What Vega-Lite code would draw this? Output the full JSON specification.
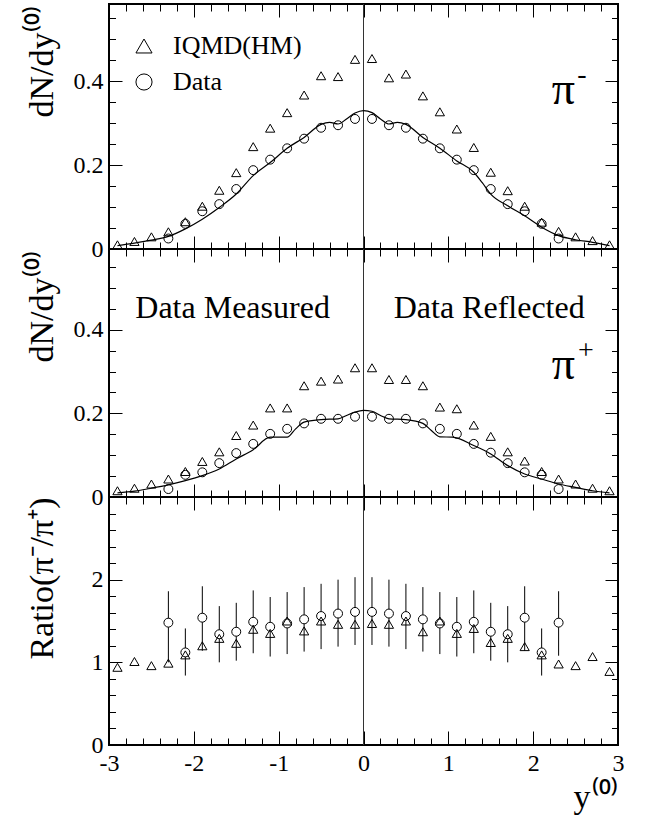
{
  "$schema": "https://vega.github.io/schema/vega-lite/v6.json",
  "padding": {"left": 24, "top": 2, "right": 5, "bottom": 5},
  "spacing": 0,
  "bounds": "flush",
  "config": {
    "font": "Liberation Serif",
    "view": {"stroke": "black", "strokeWidth": 2},
    "axis": {"domain": false, "grid": false, "tickColor": "black", "tickWidth": 1, "labelFont": "Liberation Serif", "labelFontSize": 24, "labelColor": "black", "titleFont": "Liberation Serif", "titleFontWeight": "normal", "titleColor": "black", "labelOverlap": false, "labelFlush": false}
  },
  "datasets": {
    "one": [{}],
    "pim_model": [
      {"rap": -2.9, "val": 0.010}, {"rap": -2.7, "val": 0.018}, {"rap": -2.5, "val": 0.029}, {"rap": -2.3, "val": 0.041},
      {"rap": -2.1, "val": 0.065}, {"rap": -1.9, "val": 0.102}, {"rap": -1.7, "val": 0.140}, {"rap": -1.5, "val": 0.182},
      {"rap": -1.3, "val": 0.244}, {"rap": -1.1, "val": 0.288}, {"rap": -0.9, "val": 0.325}, {"rap": -0.7, "val": 0.367},
      {"rap": -0.5, "val": 0.413}, {"rap": -0.3, "val": 0.411}, {"rap": -0.1, "val": 0.452}, {"rap": 0.1, "val": 0.454},
      {"rap": 0.3, "val": 0.408}, {"rap": 0.5, "val": 0.417}, {"rap": 0.7, "val": 0.365}, {"rap": 0.9, "val": 0.327},
      {"rap": 1.1, "val": 0.286}, {"rap": 1.3, "val": 0.242}, {"rap": 1.5, "val": 0.183}, {"rap": 1.7, "val": 0.139},
      {"rap": 1.9, "val": 0.102}, {"rap": 2.1, "val": 0.064}, {"rap": 2.3, "val": 0.042}, {"rap": 2.5, "val": 0.029},
      {"rap": 2.7, "val": 0.020}, {"rap": 2.9, "val": 0.010}
    ],
    "pim_data": [
      {"rap": -2.3, "val": 0.025}, {"rap": -2.1, "val": 0.060}, {"rap": -1.9, "val": 0.090}, {"rap": -1.7, "val": 0.107},
      {"rap": -1.5, "val": 0.143}, {"rap": -1.3, "val": 0.188}, {"rap": -1.1, "val": 0.213}, {"rap": -0.9, "val": 0.240},
      {"rap": -0.7, "val": 0.263}, {"rap": -0.5, "val": 0.289}, {"rap": -0.3, "val": 0.295}, {"rap": -0.1, "val": 0.310},
      {"rap": 0.1, "val": 0.310}, {"rap": 0.3, "val": 0.295}, {"rap": 0.5, "val": 0.289}, {"rap": 0.7, "val": 0.263},
      {"rap": 0.9, "val": 0.240}, {"rap": 1.1, "val": 0.213}, {"rap": 1.3, "val": 0.188}, {"rap": 1.5, "val": 0.143},
      {"rap": 1.7, "val": 0.107}, {"rap": 1.9, "val": 0.090}, {"rap": 2.1, "val": 0.060}, {"rap": 2.3, "val": 0.025}
    ],
    "pim_curve": [
      {"rap": -2.9, "val": 0.008}, {"rap": -2.7, "val": 0.014}, {"rap": -2.5, "val": 0.021}, {"rap": -2.3, "val": 0.030},
      {"rap": -2.1, "val": 0.048}, {"rap": -1.9, "val": 0.071}, {"rap": -1.7, "val": 0.099}, {"rap": -1.5, "val": 0.131},
      {"rap": -1.3, "val": 0.175}, {"rap": -1.1, "val": 0.206}, {"rap": -0.9, "val": 0.240}, {"rap": -0.7, "val": 0.266},
      {"rap": -0.5, "val": 0.297}, {"rap": -0.4, "val": 0.302}, {"rap": -0.3, "val": 0.298}, {"rap": -0.2, "val": 0.310},
      {"rap": -0.1, "val": 0.324}, {"rap": 0, "val": 0.330}, {"rap": 0.1, "val": 0.325}, {"rap": 0.2, "val": 0.310},
      {"rap": 0.3, "val": 0.298}, {"rap": 0.4, "val": 0.302}, {"rap": 0.5, "val": 0.297}, {"rap": 0.7, "val": 0.266},
      {"rap": 0.9, "val": 0.240}, {"rap": 1.1, "val": 0.210}, {"rap": 1.3, "val": 0.183}, {"rap": 1.4, "val": 0.158},
      {"rap": 1.5, "val": 0.131}, {"rap": 1.7, "val": 0.103}, {"rap": 1.9, "val": 0.079}, {"rap": 2.1, "val": 0.052},
      {"rap": 2.3, "val": 0.032}, {"rap": 2.5, "val": 0.022}, {"rap": 2.7, "val": 0.016}, {"rap": 2.9, "val": 0.008}
    ],
    "pip_model": [
      {"rap": -2.9, "val": 0.015}, {"rap": -2.7, "val": 0.021}, {"rap": -2.5, "val": 0.031}, {"rap": -2.3, "val": 0.043},
      {"rap": -2.1, "val": 0.061}, {"rap": -1.9, "val": 0.085}, {"rap": -1.7, "val": 0.108}, {"rap": -1.5, "val": 0.147},
      {"rap": -1.3, "val": 0.172}, {"rap": -1.1, "val": 0.213}, {"rap": -0.9, "val": 0.213}, {"rap": -0.7, "val": 0.266},
      {"rap": -0.5, "val": 0.277}, {"rap": -0.3, "val": 0.282}, {"rap": -0.1, "val": 0.309}, {"rap": 0.1, "val": 0.309},
      {"rap": 0.3, "val": 0.281}, {"rap": 0.5, "val": 0.281}, {"rap": 0.7, "val": 0.266}, {"rap": 0.9, "val": 0.215},
      {"rap": 1.1, "val": 0.211}, {"rap": 1.3, "val": 0.172}, {"rap": 1.5, "val": 0.145}, {"rap": 1.7, "val": 0.108},
      {"rap": 1.9, "val": 0.086}, {"rap": 2.1, "val": 0.061}, {"rap": 2.3, "val": 0.043}, {"rap": 2.5, "val": 0.031},
      {"rap": 2.7, "val": 0.021}, {"rap": 2.9, "val": 0.015}
    ],
    "pip_data": [
      {"rap": -2.3, "val": 0.019}, {"rap": -2.1, "val": 0.053}, {"rap": -1.9, "val": 0.059}, {"rap": -1.7, "val": 0.081},
      {"rap": -1.5, "val": 0.105}, {"rap": -1.3, "val": 0.127}, {"rap": -1.1, "val": 0.151}, {"rap": -0.9, "val": 0.163},
      {"rap": -0.7, "val": 0.176}, {"rap": -0.5, "val": 0.187}, {"rap": -0.3, "val": 0.187}, {"rap": -0.1, "val": 0.192},
      {"rap": 0.1, "val": 0.192}, {"rap": 0.3, "val": 0.187}, {"rap": 0.5, "val": 0.187}, {"rap": 0.7, "val": 0.176},
      {"rap": 0.9, "val": 0.163}, {"rap": 1.1, "val": 0.151}, {"rap": 1.3, "val": 0.127}, {"rap": 1.5, "val": 0.106},
      {"rap": 1.7, "val": 0.081}, {"rap": 1.9, "val": 0.059}, {"rap": 2.1, "val": 0.053}, {"rap": 2.3, "val": 0.019}
    ],
    "pip_curve": [
      {"rap": -2.9, "val": 0.010}, {"rap": -2.7, "val": 0.014}, {"rap": -2.5, "val": 0.021}, {"rap": -2.3, "val": 0.029},
      {"rap": -2.1, "val": 0.039}, {"rap": -1.9, "val": 0.051}, {"rap": -1.7, "val": 0.067}, {"rap": -1.5, "val": 0.091},
      {"rap": -1.3, "val": 0.113}, {"rap": -1.1, "val": 0.143}, {"rap": -0.9, "val": 0.143}, {"rap": -0.8, "val": 0.163},
      {"rap": -0.7, "val": 0.179}, {"rap": -0.5, "val": 0.185}, {"rap": -0.3, "val": 0.187}, {"rap": -0.2, "val": 0.195},
      {"rap": -0.1, "val": 0.203}, {"rap": 0, "val": 0.207}, {"rap": 0.1, "val": 0.205}, {"rap": 0.2, "val": 0.195},
      {"rap": 0.3, "val": 0.187}, {"rap": 0.5, "val": 0.185}, {"rap": 0.7, "val": 0.176}, {"rap": 0.8, "val": 0.159},
      {"rap": 0.9, "val": 0.144}, {"rap": 1.05, "val": 0.143}, {"rap": 1.3, "val": 0.123}, {"rap": 1.5, "val": 0.103},
      {"rap": 1.7, "val": 0.075}, {"rap": 1.9, "val": 0.055}, {"rap": 2.1, "val": 0.043}, {"rap": 2.3, "val": 0.031},
      {"rap": 2.5, "val": 0.023}, {"rap": 2.7, "val": 0.015}, {"rap": 2.9, "val": 0.010}
    ],
    "ratio_model": [
      {"rap": -2.9, "val": 0.94}, {"rap": -2.7, "val": 1.01}, {"rap": -2.5, "val": 0.96}, {"rap": -2.3, "val": 0.99},
      {"rap": -2.1, "val": 1.09}, {"rap": -1.9, "val": 1.20}, {"rap": -1.7, "val": 1.29}, {"rap": -1.5, "val": 1.23},
      {"rap": -1.3, "val": 1.40}, {"rap": -1.1, "val": 1.35}, {"rap": -0.9, "val": 1.50}, {"rap": -0.7, "val": 1.38},
      {"rap": -0.5, "val": 1.50}, {"rap": -0.3, "val": 1.46}, {"rap": -0.1, "val": 1.46}, {"rap": 0.1, "val": 1.47},
      {"rap": 0.3, "val": 1.46}, {"rap": 0.5, "val": 1.50}, {"rap": 0.7, "val": 1.37}, {"rap": 0.9, "val": 1.50},
      {"rap": 1.1, "val": 1.35}, {"rap": 1.3, "val": 1.41}, {"rap": 1.5, "val": 1.24}, {"rap": 1.7, "val": 1.29},
      {"rap": 1.9, "val": 1.19}, {"rap": 2.1, "val": 1.09}, {"rap": 2.3, "val": 0.98}, {"rap": 2.5, "val": 0.96},
      {"rap": 2.7, "val": 1.07}, {"rap": 2.9, "val": 0.89}
    ],
    "ratio_data": [
      {"rap": -2.3, "val": 1.48, "lo": 1.00, "hi": 1.86}, {"rap": -2.1, "val": 1.12, "lo": 0.84, "hi": 1.41},
      {"rap": -1.9, "val": 1.54, "lo": 1.14, "hi": 1.92}, {"rap": -1.7, "val": 1.34, "lo": 1.00, "hi": 1.68},
      {"rap": -1.5, "val": 1.37, "lo": 1.02, "hi": 1.72}, {"rap": -1.3, "val": 1.49, "lo": 1.11, "hi": 1.87},
      {"rap": -1.1, "val": 1.43, "lo": 1.07, "hi": 1.79}, {"rap": -0.9, "val": 1.47, "lo": 1.10, "hi": 1.85},
      {"rap": -0.7, "val": 1.52, "lo": 1.13, "hi": 1.91}, {"rap": -0.5, "val": 1.56, "lo": 1.16, "hi": 1.95},
      {"rap": -0.3, "val": 1.59, "lo": 1.19, "hi": 2.00}, {"rap": -0.1, "val": 1.61, "lo": 1.21, "hi": 2.03},
      {"rap": 0.1, "val": 1.61, "lo": 1.21, "hi": 2.03}, {"rap": 0.3, "val": 1.59, "lo": 1.19, "hi": 2.00},
      {"rap": 0.5, "val": 1.56, "lo": 1.16, "hi": 1.95}, {"rap": 0.7, "val": 1.52, "lo": 1.13, "hi": 1.91},
      {"rap": 0.9, "val": 1.47, "lo": 1.10, "hi": 1.85}, {"rap": 1.1, "val": 1.43, "lo": 1.07, "hi": 1.79},
      {"rap": 1.3, "val": 1.49, "lo": 1.11, "hi": 1.87}, {"rap": 1.5, "val": 1.37, "lo": 1.02, "hi": 1.72},
      {"rap": 1.7, "val": 1.34, "lo": 1.00, "hi": 1.68}, {"rap": 1.9, "val": 1.54, "lo": 1.14, "hi": 1.92},
      {"rap": 2.1, "val": 1.12, "lo": 0.84, "hi": 1.41}, {"rap": 2.3, "val": 1.48, "lo": 1.08, "hi": 1.86}
    ]
  },
  "vconcat": [
    {
      "width": 509,
      "height": 245,
      "resolve": {"axis": {"x": "independent", "y": "independent"}},
      "layer": [
        {
          "data": {"name": "one"},
          "mark": {"type": "rule", "color": "#333333", "strokeWidth": 1},
          "encoding": {"x": {"datum": 0, "scale": {"domain": [-3, 3], "nice": false, "zero": false}, "axis": null}}
        },
        {
          "data": {"name": "pim_curve"},
          "mark": {"type": "line", "interpolate": "monotone", "color": "black", "strokeWidth": 1.2},
          "encoding": {
            "x": {"field": "rap", "type": "quantitative", "scale": {"domain": [-3, 3], "nice": false, "zero": false},
              "axis": {"orient": "bottom", "values": [-3,-2.8,-2.6,-2.4,-2.2,-2,-1.8,-1.6,-1.4,-1.2,-1,-0.8,-0.6,-0.4,-0.2,0,0.2,0.4,0.6,0.8,1,1.2,1.4,1.6,1.8,2,2.2,2.4,2.6,2.8,3],
                "tickSize": {"condition": {"test": "abs(datum.value-round(datum.value))<0.01", "value": -13}, "value": -7}, "labels": false, "title": null}},
            "y": {"field": "val", "type": "quantitative", "scale": {"domain": [0, 0.584], "nice": false},
              "axis": {"orient": "left", "values": [0,0.05,0.1,0.15,0.2,0.25,0.3,0.35,0.4,0.45,0.5,0.55],
                "tickSize": {"condition": {"test": "abs(datum.value*5-round(datum.value*5))<0.01", "value": -13}, "value": -6.5},
                "labelExpr": "abs(datum.value*5-round(datum.value*5))<0.01 ? ''+datum.value : ''", "labelPadding": 19,
                "title": "dN/dy⁽⁰⁾", "titleX": -57, "titleY": 0, "titleAngle": 270, "titleAlign": "right", "titleBaseline": "alphabetic", "titleFontSize": 34}}
          }
        },
        {
          "data": {"name": "pim_model"},
          "mark": {"type": "point", "filled": false, "color": "black", "size": 85, "strokeWidth": 1, "opacity": 1},
          "encoding": {
            "x": {"field": "rap", "type": "quantitative",
              "axis": {"orient": "top", "values": [-3,-2.8,-2.6,-2.4,-2.2,-2,-1.8,-1.6,-1.4,-1.2,-1,-0.8,-0.6,-0.4,-0.2,0,0.2,0.4,0.6,0.8,1,1.2,1.4,1.6,1.8,2,2.2,2.4,2.6,2.8,3],
                "tickSize": {"condition": {"test": "abs(datum.value-round(datum.value))<0.01", "value": -13}, "value": -7}, "labels": false, "title": null}},
            "y": {"field": "val", "type": "quantitative",
              "axis": {"orient": "right", "values": [0,0.05,0.1,0.15,0.2,0.25,0.3,0.35,0.4,0.45,0.5,0.55],
                "tickSize": {"condition": {"test": "abs(datum.value*5-round(datum.value*5))<0.01", "value": -13}, "value": -6.5}, "labels": false, "title": null}},
            "shape": {"datum": "IQMD(HM)", "scale": {"domain": ["IQMD(HM)", "Data"], "range": ["triangle-up", "circle"]},
              "legend": {"orient": "none", "legendX": 22, "legendY": 29, "title": null, "symbolSize": 260, "symbolStrokeWidth": 1, "symbolStrokeColor": "black", "symbolFillColor": "transparent", "labelFont": "Liberation Serif", "labelFontSize": 26, "labelColor": "black", "labelOffset": 16, "rowPadding": 10}}
          }
        },
        {
          "data": {"name": "pim_data"},
          "mark": {"type": "point", "filled": false, "color": "black", "size": 80, "strokeWidth": 1, "opacity": 1},
          "encoding": {
            "x": {"field": "rap", "type": "quantitative", "axis": null},
            "y": {"field": "val", "type": "quantitative", "axis": null},
            "shape": {"datum": "Data"}
          }
        },
        {
          "data": {"name": "one"},
          "mark": {"type": "text", "text": "π", "fontSize": 46, "align": "left", "baseline": "alphabetic", "color": "black"},
          "encoding": {"x": {"datum": 2.22, "axis": null}, "y": {"datum": 0.345, "axis": null}}
        },
        {
          "data": {"name": "one"},
          "mark": {"type": "text", "text": "-", "fontSize": 28, "align": "center", "baseline": "middle", "dx": 30, "dy": -29, "color": "black"},
          "encoding": {"x": {"datum": 2.22, "axis": null}, "y": {"datum": 0.345, "axis": null}}
        }
      ]
    },
    {
      "width": 509,
      "height": 248,
      "resolve": {"axis": {"x": "independent", "y": "independent"}},
      "layer": [
        {
          "data": {"name": "one"},
          "mark": {"type": "rule", "color": "#333333", "strokeWidth": 1},
          "encoding": {"x": {"datum": 0, "scale": {"domain": [-3, 3], "nice": false, "zero": false}, "axis": null}}
        },
        {
          "data": {"name": "pip_curve"},
          "mark": {"type": "line", "interpolate": "monotone", "color": "black", "strokeWidth": 1.2},
          "encoding": {
            "x": {"field": "rap", "type": "quantitative", "scale": {"domain": [-3, 3], "nice": false, "zero": false},
              "axis": {"orient": "bottom", "values": [-3,-2.8,-2.6,-2.4,-2.2,-2,-1.8,-1.6,-1.4,-1.2,-1,-0.8,-0.6,-0.4,-0.2,0,0.2,0.4,0.6,0.8,1,1.2,1.4,1.6,1.8,2,2.2,2.4,2.6,2.8,3],
                "tickSize": {"condition": {"test": "abs(datum.value-round(datum.value))<0.01", "value": -13}, "value": -7}, "labels": false, "title": null}},
            "y": {"field": "val", "type": "quantitative", "scale": {"domain": [0, 0.593], "nice": false},
              "axis": {"orient": "left", "values": [0,0.05,0.1,0.15,0.2,0.25,0.3,0.35,0.4,0.45,0.5,0.55],
                "tickSize": {"condition": {"test": "abs(datum.value*5-round(datum.value*5))<0.01", "value": -13}, "value": -6.5},
                "labelExpr": "abs(datum.value*5-round(datum.value*5))<0.01 ? ''+datum.value : ''", "labelPadding": 19,
                "title": "dN/dy⁽⁰⁾", "titleX": -57, "titleY": 0, "titleAngle": 270, "titleAlign": "right", "titleBaseline": "alphabetic", "titleFontSize": 34}}
          }
        },
        {
          "data": {"name": "pip_model"},
          "mark": {"type": "point", "shape": "triangle-up", "filled": false, "color": "black", "size": 85, "strokeWidth": 1, "opacity": 1},
          "encoding": {
            "x": {"field": "rap", "type": "quantitative",
              "axis": {"orient": "top", "values": [-3,-2.8,-2.6,-2.4,-2.2,-2,-1.8,-1.6,-1.4,-1.2,-1,-0.8,-0.6,-0.4,-0.2,0,0.2,0.4,0.6,0.8,1,1.2,1.4,1.6,1.8,2,2.2,2.4,2.6,2.8,3],
                "tickSize": {"condition": {"test": "abs(datum.value-round(datum.value))<0.01", "value": -13}, "value": -7}, "labels": false, "title": null}},
            "y": {"field": "val", "type": "quantitative",
              "axis": {"orient": "right", "values": [0,0.05,0.1,0.15,0.2,0.25,0.3,0.35,0.4,0.45,0.5,0.55],
                "tickSize": {"condition": {"test": "abs(datum.value*5-round(datum.value*5))<0.01", "value": -13}, "value": -6.5}, "labels": false, "title": null}}
          }
        },
        {
          "data": {"name": "pip_data"},
          "mark": {"type": "point", "shape": "circle", "filled": false, "color": "black", "size": 80, "strokeWidth": 1, "opacity": 1},
          "encoding": {
            "x": {"field": "rap", "type": "quantitative", "axis": null},
            "y": {"field": "val", "type": "quantitative", "axis": null}
          }
        },
        {
          "data": {"name": "one"},
          "mark": {"type": "text", "text": "Data Measured", "fontSize": 32, "align": "left", "baseline": "alphabetic", "color": "black"},
          "encoding": {"x": {"datum": -2.69, "axis": null}, "y": {"datum": 0.428, "axis": null}}
        },
        {
          "data": {"name": "one"},
          "mark": {"type": "text", "text": "Data Reflected", "fontSize": 32, "align": "left", "baseline": "alphabetic", "color": "black"},
          "encoding": {"x": {"datum": 0.356, "axis": null}, "y": {"datum": 0.428, "axis": null}}
        },
        {
          "data": {"name": "one"},
          "mark": {"type": "text", "text": "π", "fontSize": 46, "align": "left", "baseline": "alphabetic", "color": "black"},
          "encoding": {"x": {"datum": 2.22, "axis": null}, "y": {"datum": 0.282, "axis": null}}
        },
        {
          "data": {"name": "one"},
          "mark": {"type": "text", "text": "+", "fontSize": 28, "align": "center", "baseline": "middle", "dx": 34, "dy": -28, "color": "black"},
          "encoding": {"x": {"datum": 2.22, "axis": null}, "y": {"datum": 0.282, "axis": null}}
        }
      ]
    },
    {
      "width": 509,
      "height": 248,
      "resolve": {"axis": {"x": "independent", "y": "independent"}},
      "layer": [
        {
          "data": {"name": "one"},
          "mark": {"type": "rule", "color": "#333333", "strokeWidth": 1},
          "encoding": {"x": {"datum": 0, "scale": {"domain": [-3, 3], "nice": false, "zero": false}, "axis": null}}
        },
        {
          "data": {"name": "ratio_data"},
          "mark": {"type": "rule", "color": "black", "strokeWidth": 1},
          "encoding": {
            "x": {"field": "rap", "type": "quantitative", "scale": {"domain": [-3, 3], "nice": false, "zero": false},
              "axis": {"orient": "bottom", "values": [-3,-2.8,-2.6,-2.4,-2.2,-2,-1.8,-1.6,-1.4,-1.2,-1,-0.8,-0.6,-0.4,-0.2,0,0.2,0.4,0.6,0.8,1,1.2,1.4,1.6,1.8,2,2.2,2.4,2.6,2.8,3],
                "tickSize": {"condition": {"test": "abs(datum.value-round(datum.value))<0.01", "value": -14}, "value": -7},
                "labelExpr": "abs(datum.value-round(datum.value))<0.01 ? ''+round(datum.value) : ''", "labelPadding": 20,
                "title": "y⁽⁰⁾", "titleX": 509, "titleY": 62, "titleAlign": "right", "titleBaseline": "alphabetic", "titleFontSize": 34}},
            "y": {"field": "lo", "type": "quantitative", "scale": {"domain": [0, 3], "nice": false},
              "axis": {"orient": "left", "values": [0,0.2,0.4,0.6,0.8,1,1.2,1.4,1.6,1.8,2,2.2,2.4,2.6,2.8,3],
                "tickSize": {"condition": {"test": "abs(datum.value-round(datum.value))<0.01", "value": -13}, "value": -6.5},
                "labelExpr": "abs(datum.value-round(datum.value))<0.01 && datum.value<2.5 ? ''+round(datum.value) : ''", "labelPadding": 19,
                "title": "Ratio(π⁻/π⁺)", "titleX": -57, "titleY": 0, "titleAngle": 270, "titleAlign": "right", "titleBaseline": "alphabetic", "titleFontSize": 34}},
            "y2": {"field": "hi"}
          }
        },
        {
          "data": {"name": "ratio_data"},
          "mark": {"type": "point", "shape": "circle", "filled": false, "fill": "white", "stroke": "black", "size": 80, "strokeWidth": 1, "opacity": 1},
          "encoding": {
            "x": {"field": "rap", "type": "quantitative",
              "axis": {"orient": "top", "values": [-3,-2.8,-2.6,-2.4,-2.2,-2,-1.8,-1.6,-1.4,-1.2,-1,-0.8,-0.6,-0.4,-0.2,0,0.2,0.4,0.6,0.8,1,1.2,1.4,1.6,1.8,2,2.2,2.4,2.6,2.8,3],
                "tickSize": {"condition": {"test": "abs(datum.value-round(datum.value))<0.01", "value": -13}, "value": -7}, "labels": false, "title": null}},
            "y": {"field": "val", "type": "quantitative",
              "axis": {"orient": "right", "values": [0,0.2,0.4,0.6,0.8,1,1.2,1.4,1.6,1.8,2,2.2,2.4,2.6,2.8,3],
                "tickSize": {"condition": {"test": "abs(datum.value-round(datum.value))<0.01", "value": -13}, "value": -6.5}, "labels": false, "title": null}}
          }
        },
        {
          "data": {"name": "ratio_model"},
          "mark": {"type": "point", "shape": "triangle-up", "filled": false, "color": "black", "size": 85, "strokeWidth": 1, "opacity": 1},
          "encoding": {
            "x": {"field": "rap", "type": "quantitative", "axis": null},
            "y": {"field": "val", "type": "quantitative", "axis": null}
          }
        }
      ]
    }
  ]
}
